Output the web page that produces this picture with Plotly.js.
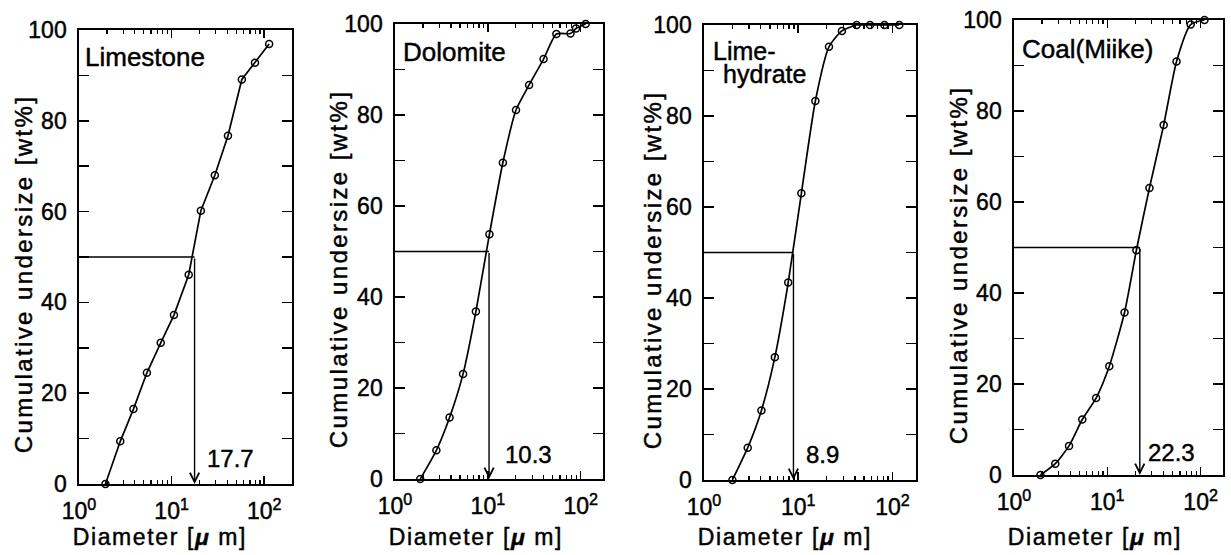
<!DOCTYPE html>
<html><head><meta charset="utf-8">
<script src="https://cdn.plot.ly/plotly-3.0.1.min.js"></script>
<style>
html,body{margin:0;padding:0;background:#fff;}
#chart svg text{stroke:#000;stroke-width:0.45px;}
</style>
</head><body>
<div id="chart" style="width:1231px;height:555px;"></div>
<script>
// ---------------- data ----------------
const panelNames = ['Limestone', 'Dolomite', 'Lime-hydrate', 'Coal(Miike)'];

const diamLimestone = [1.93, 2.79, 3.87, 5.41, 7.63, 10.6, 15.3, 20.7, 29.3, 40.6, 57.3, 79.5, 113];
const cumLimestone  = [0, 9.4, 16.5, 24.5, 31.1, 37.2, 46.1, 60.2, 68.0, 76.7, 89.1, 92.8, 96.9];

const diamDolomite = [1.87, 2.79, 3.87, 5.41, 7.43, 10.4, 14.5, 20.1, 27.8, 39.8, 54.7, 77.6, 89, 113];
const cumDolomite  = [0, 6.3, 13.5, 23.1, 36.8, 53.8, 69.5, 81.1, 86.6, 92.3, 97.8, 97.9, 99.0, 100];

const diamLimeHydrate = [2.0, 2.91, 4.07, 5.65, 7.83, 10.8, 15.2, 21.2, 29.1, 41.7, 57.8, 82.2, 118];
const cumLimeHydrate  = [0, 7.1, 15.3, 27.0, 43.4, 63.0, 83.3, 95.2, 98.7, 100, 100, 100, 100];

const diamCoal = [1.92, 2.77, 3.89, 5.39, 7.58, 10.5, 15.3, 20.5, 28.3, 40.2, 55.2, 78.3, 110];
const cumCoal  = [0, 2.5, 6.4, 12.2, 16.9, 23.9, 35.7, 49.4, 63.1, 76.9, 90.9, 99.0, 100];

const medianDiam = [17.7, 10.3, 8.9, 22.3];
const medianText = ['17.7', '10.3', '8.9', '22.3'];
const medianLevel = 50;

const xTickVals = [1, 10, 100];
const xTickText = ['10<sup>0</sup>', '10<sup>1</sup>', '10<sup>2</sup>'];
const xMinorVals = [2, 3, 4, 5, 6, 7, 8, 9, 20, 30, 40, 50, 60, 70, 80, 90, 200];
const yTickVals = [0, 20, 40, 60, 80, 100];
const yTickText = ['0', '20', '40', '60', '80', '100'];
const yMinorVals = [10, 30, 50, 70, 90];

const xTitleText = 'Diameter [<b><i>μ</i></b> m]';
const yTitleText = 'Cumulative undersize [wt%]';

// ---------------- geometry / style ----------------
const W = 1231, H = 555;
const FONT = 'Liberation Sans, Arial, Helvetica, sans-serif';
const boxes = [
  {l: 79,   r: 292,  t: 30, b: 484, xmax: 2.30, shape: 'linear', medShift: 10, medY: 5.7, lblDx: 4, lblDy: 27, ytx: 23,  yty: 274},
  {l: 395,  r: 603,  t: 24, b: 479, xmax: 2.24, shape: 'spline', medShift: 14, medY: 5.4, lblDx: 6, lblDy: 28, ytx: 338, yty: 269},
  {l: 704,  r: 916,  t: 25, b: 480, xmax: 2.25, shape: 'spline', medShift: 11, medY: 5.7, lblDx: 7, lblDy: 33, ytx: 652, yty: 270},
  {l: 1014, r: 1223, t: 20, b: 475, xmax: 2.24, shape: 'spline', medShift: 6,  medY: 5.0, lblDx: 6, lblDy: 29, ytx: 958, yty: 265}
];
const series = [
  [diamLimestone, cumLimestone],
  [diamDolomite, cumDolomite],
  [diamLimeHydrate, cumLimeHydrate],
  [diamCoal, cumCoal]
];

const px = v => v / W;
const py = v => (H - v) / H;

const traces = [];
const layout = {
  width: W, height: H, autosize: false,
  margin: {l: 0, r: 0, t: 0, b: 0, pad: 0},
  paper_bgcolor: '#fff', plot_bgcolor: '#fff',
  showlegend: false,
  font: {family: FONT, size: 23, color: '#000'},
  annotations: []
};

boxes.forEach((bx, i) => {
  const n = i + 1;
  const xa = 'x' + (n === 1 ? '' : n), ya = 'y' + (n === 1 ? '' : n);
  const xk = 'xaxis' + (n === 1 ? '' : n), yk = 'yaxis' + (n === 1 ? '' : n);
  const [xs, ys] = series[i];

  traces.push({
    x: xs, y: ys, xaxis: xa, yaxis: ya, type: 'scatter', mode: 'lines+markers',
    line: {color: '#000', width: 1.7, shape: bx.shape, smoothing: 0.6},
    marker: {symbol: 'circle-open', size: 7, color: '#000', line: {width: 1.5, color: '#000'}},
    cliponaxis: false, hoverinfo: 'skip'
  });
  // horizontal median guide
  traces.push({
    x: [1, medianDiam[i]], y: [medianLevel, medianLevel], xaxis: xa, yaxis: ya,
    type: 'scatter', mode: 'lines', line: {color: '#000', width: 1.4}, hoverinfo: 'skip'
  });

  layout[xk] = {
    type: 'log', range: [0, bx.xmax], domain: [px(bx.l), px(bx.r)], anchor: ya,
    showline: true, linecolor: '#000', linewidth: 1.7, mirror: 'ticks',
    showgrid: false, zeroline: false,
    tickmode: 'array', tickvals: xTickVals, ticktext: xTickText,
    ticks: 'inside', ticklen: 8, tickwidth: 1.5, tickcolor: '#000',
    minor: {tickmode: 'array', tickvals: xMinorVals, ticks: 'inside', ticklen: 4, tickwidth: 1.3, tickcolor: '#000', showgrid: false},
    tickfont: {family: FONT, size: 23, color: '#000'},
    ticklabelstandoff: 6, fixedrange: true
  };
  layout[yk] = {
    range: [0, 100], domain: [py(bx.b), py(bx.t)], anchor: xa,
    showline: true, linecolor: '#000', linewidth: 1.7, mirror: 'ticks',
    showgrid: false, zeroline: false,
    tickmode: 'array', tickvals: yTickVals, ticktext: yTickText,
    ticks: 'inside', ticklen: 10, tickwidth: 1.5, tickcolor: '#000',
    minor: {tickmode: 'array', tickvals: yMinorVals, ticks: 'inside', ticklen: 10, tickwidth: 1.5, tickcolor: '#000', showgrid: false},
    tickfont: {family: FONT, size: 23, color: '#000'},
    ticklabelstandoff: 6, fixedrange: true
  };

  const lm = Math.log10(medianDiam[i]);
  // vertical arrow
  layout.annotations.push({
    xref: xa, yref: ya, x: lm, y: 0, axref: xa, ayref: ya, ax: lm, ay: medianLevel,
    text: '', showarrow: true, arrowhead: 5, arrowsize: 1.3, arrowwidth: 1.4, arrowcolor: '#000', standoff: 0
  });
  // median value
  layout.annotations.push({
    xref: xa, yref: ya, x: lm, y: bx.medY, xanchor: 'left', yanchor: 'middle', xshift: bx.medShift,
    text: medianText[i], showarrow: false, font: {family: FONT, size: 24, color: '#000'}
  });
  // panel label
  if (i === 2) {
    layout.annotations.push({
      xref: 'paper', yref: 'paper', x: px(bx.l + bx.lblDx), y: py(bx.t + bx.lblDy - 7), xanchor: 'left', yanchor: 'middle',
      text: 'Lime-', showarrow: false, font: {family: FONT, size: 25, color: '#000'}
    });
    layout.annotations.push({
      xref: 'paper', yref: 'paper', x: px(bx.l + bx.lblDx + 10), y: py(bx.t + bx.lblDy + 16), xanchor: 'left', yanchor: 'middle',
      text: 'hydrate', showarrow: false, font: {family: FONT, size: 25, color: '#000'}
    });
  } else {
    layout.annotations.push({
      xref: 'paper', yref: 'paper', x: px(bx.l + bx.lblDx), y: py(bx.t + bx.lblDy), xanchor: 'left', yanchor: 'middle',
      text: panelNames[i], showarrow: false, font: {family: FONT, size: 26, color: '#000'}
    });
  }
  // axis titles
  layout.annotations.push({
    xref: 'paper', yref: 'paper', x: px(bx.ytx), y: py(bx.yty), xanchor: 'center', yanchor: 'middle',
    textangle: -90, text: yTitleText, showarrow: false, font: {family: FONT, size: 24, color: '#000'}
  });
  layout.annotations.push({
    xref: 'paper', yref: 'paper', x: px(bx.l + 3), y: py(537), xanchor: 'left', yanchor: 'middle',
    text: xTitleText, showarrow: false, font: {family: FONT, size: 23, color: '#000'}
  });
});

Plotly.newPlot('chart', traces, layout, {staticPlot: true, displayModeBar: false}).then(() => {
  document.querySelectorAll('.annotation-text').forEach(t => {
    const s = t.textContent;
    if (s.indexOf('Cumulative') === 0) t.style.letterSpacing = '2.4px';
    else if (s.indexOf('Diameter') === 0) t.style.letterSpacing = '1.6px';
  });
});
</script>
</body></html>
